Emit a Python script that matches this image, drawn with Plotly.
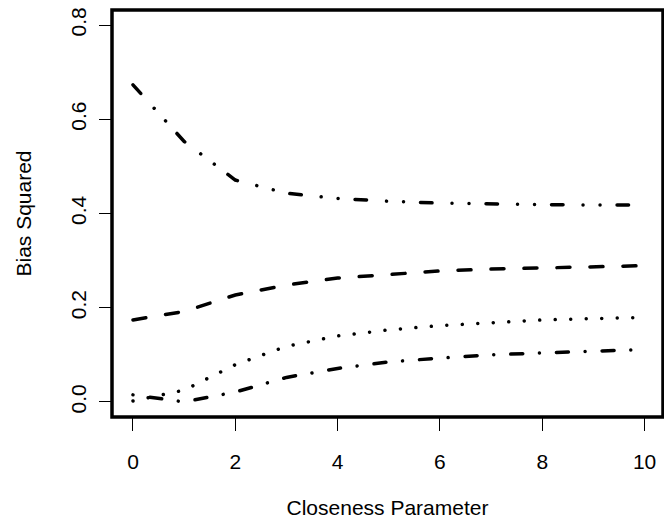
import plotly.graph_objects as go

closeness = [0, 1, 2, 3, 4, 5, 6, 7, 8, 9, 9.9]
bias_twodash = [0.673, 0.553, 0.471, 0.443, 0.432, 0.426, 0.422, 0.420, 0.419, 0.418, 0.418]
bias_dashed = [0.174, 0.192, 0.227, 0.248, 0.263, 0.271, 0.278, 0.282, 0.285, 0.287, 0.289]
bias_dotted = [0.002, 0.025, 0.079, 0.118, 0.140, 0.153, 0.162, 0.168, 0.174, 0.177, 0.179]
bias_dotdash = [0.015, 0.000, 0.021, 0.052, 0.071, 0.085, 0.093, 0.100, 0.104, 0.108, 0.111]

x_ticks = [0, 2, 4, 6, 8, 10]
y_ticks = [0.0, 0.2, 0.4, 0.6, 0.8]
y_tick_text = ["0.0", "0.2", "0.4", "0.6", "0.8"]

FONT = "Liberation Sans, Arial, Helvetica, sans-serif"
FS = 21
LW = 3.5

series = [
    (bias_twodash, "11.5px,20px,0.01px,17px,0.01px,17px"),
    (bias_dashed, "13px,20px"),
    (bias_dotted, "0.01px,15.5px"),
    (bias_dotdash, "0.01px,17px,12px,16.7px"),
]

fig = go.Figure()
for ys, dash in series:
    fig.add_trace(go.Scatter(
        x=closeness, y=ys, mode="lines",
        line=dict(color="black", width=LW, dash=dash),
        showlegend=False, hoverinfo="skip",
    ))

fig.update_layout(
    width=664, height=523,
    margin=dict(l=112, r=1, t=10, b=106),
    paper_bgcolor="white", plot_bgcolor="white",
    font=dict(family=FONT, size=FS, color="black"),
    xaxis=dict(
        range=[-0.41, 10.36], tickvals=x_ticks, ticktext=[str(v) for v in x_ticks],
        showgrid=False, zeroline=False, showline=False,
        ticks="outside", ticklen=13, tickwidth=1.3, tickcolor="black",
        ticklabelstandoff=13,
        title=dict(text="Closeness Parameter", standoff=28, font=dict(size=FS)),
    ),
    yaxis=dict(
        range=[-0.032, 0.832], tickvals=y_ticks, ticktext=y_tick_text,
        showgrid=False, zeroline=False, showline=False,
        ticks="outside", ticklen=12, tickwidth=1.3, tickcolor="black",
        tickangle=-90, ticklabelstandoff=5,
        title=dict(text="Bias Squared", standoff=29, font=dict(size=FS)),
    ),
    shapes=[dict(type="rect", xref="paper", yref="paper", x0=0, x1=1, y0=0, y1=1,
                 line=dict(color="black", width=LW), fillcolor="rgba(0,0,0,0)", layer="above")],
)

post = ("var s=document.createElement('style');"
        "s.innerHTML='html,body{margin:0;padding:0;}.js-line{stroke-linecap:round !important;}';"
        "document.head.appendChild(s);")
fig.write_html("out.html", post_script=post, config={"displayModeBar": False})
